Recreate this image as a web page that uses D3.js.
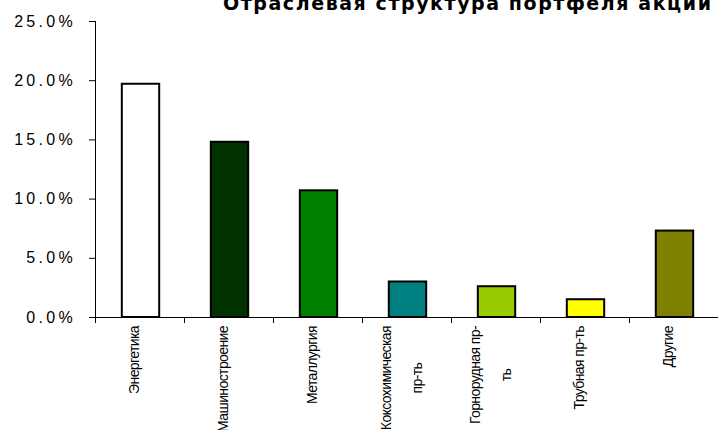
<!DOCTYPE html>
<html>
<head>
<meta charset="utf-8">
<script src="https://cdn.jsdelivr.net/npm/d3@7"></script>
<style>
  body { margin: 0; background: #fff; }
  svg { display: block; }
</style>
</head>
<body>
<svg width="718" height="430"></svg>
<script>
// Chart data
const categories = [
    ["Энергетика"],
    ["Машиностроение"],
    ["Металлургия"],
    ["Коксохимическая", "пр-ть"],
    ["Горнорудная пр-", "ть"],
    ["Трубная пр-ть"],
    ["Другие"]
];
const shares = [0.197, 0.148, 0.107, 0.030, 0.026, 0.015, 0.073];
const barColors = ["#ffffff", "#003300", "#008000", "#008080", "#99cc00", "#ffff00", "#808000"];
const yTicks = [0, 0.05, 0.10, 0.15, 0.20, 0.25];
const title = "Отраслевая структура портфеля акций";

const svg = d3.select("svg"),
      width = +svg.attr("width"),
      height = +svg.attr("height"),
      margin = {top: 21, right: 0, bottom: 113, left: 95};

const x = d3.scaleBand()
    .domain(d3.range(categories.length))
    .range([margin.left, width - margin.right])
    .padding(0);

const y = d3.scaleLinear()
    .domain([0, 0.25])
    .range([height - margin.bottom, margin.top]);

const barW = x.bandwidth() * 0.42;

// Title (clipped at the top like the original)
svg.append("text")
    .attr("x", 467)
    .attr("y", 10)
    .attr("text-anchor", "middle")
    .attr("font-family", "DejaVu Sans, sans-serif")
    .attr("font-weight", "bold")
    .attr("font-size", "19px")
    .attr("textLength", 488)
    .attr("lengthAdjust", "spacing")
    .text(title);

// Y axis
const yAxis = svg.append("g")
    .attr("transform", `translate(${margin.left},0)`)
    .call(d3.axisLeft(y).tickValues(yTicks).tickFormat(d3.format(".1%")).tickSize(6).tickPadding(13));
yAxis.select(".domain").attr("stroke", "#000").attr("d", `M0.5,${y(0.25)}V${y(0)}`);
yAxis.selectAll(".tick line").attr("stroke", "#000");
yAxis.selectAll(".tick text")
    .attr("font-family", "Liberation Sans, Arial, sans-serif")
    .attr("font-size", "16px")
    .attr("letter-spacing", "3.3px")
    .attr("fill", "#000");

// X axis line + ticks at band boundaries
const xAxisG = svg.append("g").attr("transform", `translate(0,${y(0)})`);
xAxisG.append("line")
    .attr("x1", margin.left).attr("x2", width)
    .attr("y1", 0.5).attr("y2", 0.5)
    .attr("stroke", "#000");
xAxisG.selectAll(".xtick")
    .data(d3.range(categories.length))
    .join("line")
    .attr("class", "xtick")
    .attr("x1", d => Math.round(x(d)) + 0.5)
    .attr("x2", d => Math.round(x(d)) + 0.5)
    .attr("y1", 0).attr("y2", 6)
    .attr("stroke", "#000");

// Bars
svg.append("g")
    .selectAll("rect")
    .data(shares)
    .join("rect")
    .attr("x", (d, i) => x(i) + x.bandwidth() / 2 - barW / 2 + 1)
    .attr("y", d => y(d))
    .attr("width", barW)
    .attr("height", d => y(0) - y(d))
    .attr("fill", (d, i) => barColors[i])
    .attr("stroke", "#000")
    .attr("stroke-width", 2);

// Category labels, rotated, top-aligned under the axis
const labelTop = y(0) + 9;
const lineGap = 31;
const labels = svg.append("g")
    .selectAll("g")
    .data(categories)
    .join("g")
    .attr("font-family", "Liberation Sans, Arial, sans-serif")
    .attr("font-size", "14px")
    .attr("fill", "#000");

labels.each(function(lines, i) {
    const g = d3.select(this);
    const cx = x(i) + x.bandwidth() / 2;
    const n = lines.length;
    const texts = lines.map((t, k) => {
        const off = (k - (n - 1) / 2) * lineGap;
        return g.append("text")
            .attr("text-anchor", "middle")
            .attr("dy", "0.35em")
            .attr("letter-spacing", "-0.6px")
            .attr("data-off", off)
            .text(t);
    });
    const maxLen = d3.max(texts, t => t.node().getComputedTextLength());
    texts.forEach(t => {
        const off = +t.attr("data-off");
        t.attr("transform", `translate(${cx - 5 + off},${labelTop + maxLen / 2}) rotate(-90)`);
    });
});
</script>
</body>
</html>
